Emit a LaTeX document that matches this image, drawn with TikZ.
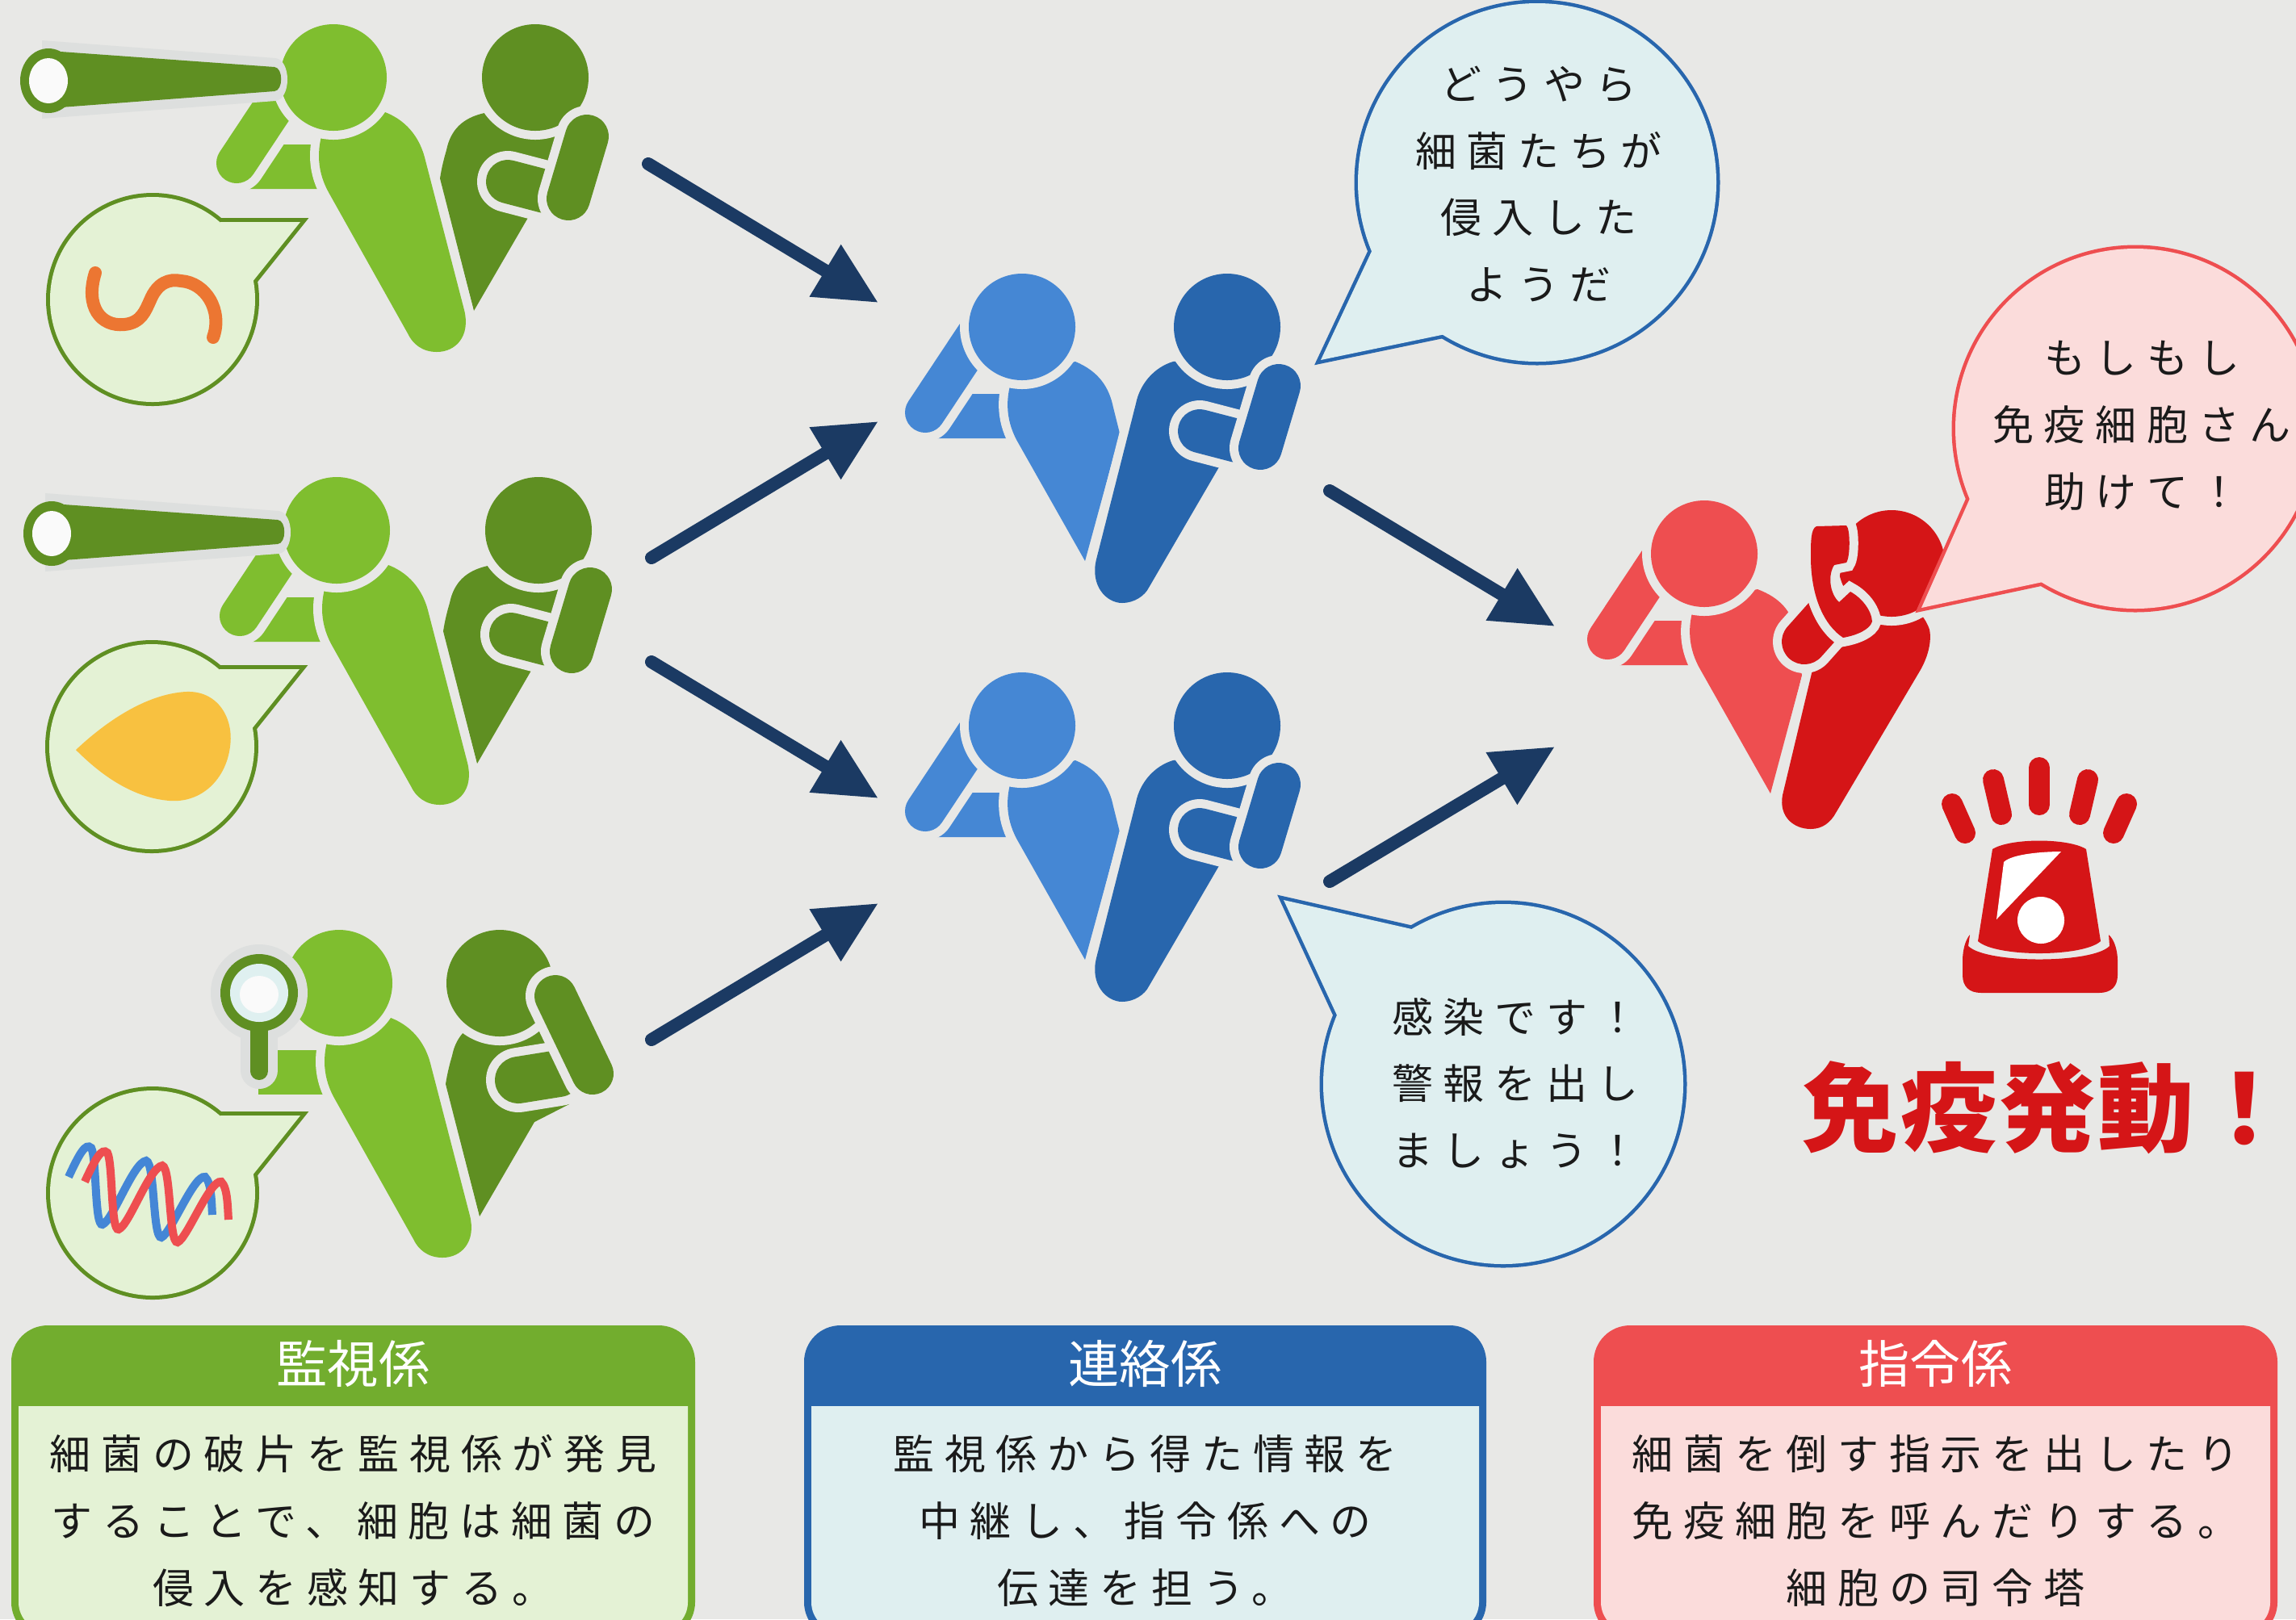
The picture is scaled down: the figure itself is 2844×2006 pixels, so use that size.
\documentclass[tikz,border=0pt]{standalone}
\usepackage{fontspec}
\setmainfont{Noto Sans CJK JP}
\usetikzlibrary{arrows.meta}

\definecolor{bg}{HTML}{E8E8E6}
\definecolor{halo}{HTML}{DDDFDE}
\definecolor{lg}{HTML}{7FBE2F}
\definecolor{dg}{HTML}{5F8F22}
\definecolor{gbox}{HTML}{72AD2E}
\definecolor{gpale}{HTML}{E4F2D5}
\definecolor{lb}{HTML}{4587D4}
\definecolor{db}{HTML}{2866AD}
\definecolor{bpale}{HTML}{DFEFF0}
\definecolor{lr}{HTML}{EE4E50}
\definecolor{dr}{HTML}{D51517}
\definecolor{rpale}{HTML}{FBDCDB}
\definecolor{navy}{HTML}{1B3A63}
\definecolor{worm}{HTML}{EC7632}
\definecolor{leaf}{HTML}{F8C140}
\definecolor{dnab}{HTML}{4486D6}
\definecolor{dnar}{HTML}{EE4E50}
\definecolor{glass}{HTML}{DFF0F0}
\definecolor{shine}{HTML}{FAFAFA}
\definecolor{ink}{HTML}{1A1A1A}

\newcommand{\txtfont}{\fontsize{14.5}{23.6}\selectfont\addfontfeatures{LetterSpace=25}}
\newcommand{\headfont}{\fontsize{18}{20}\selectfont}
\newcommand{\bigfont}{\fontsize{34}{40}\selectfont\bfseries\addfontfeatures{LetterSpace=2}}

\tikzset{
  cutout/.style={preaction={draw=bg,line width=2.2mm}},
  flow/.style={draw=navy,line width=1.6mm,line cap=round,-{Triangle[length=7.7mm,width=7.1mm]}},
  beam/.style={draw=dr,line width=2.6mm,line cap=round},
  bodytxt/.style={align=center,font=\txtfont,text=ink},
  headtxt/.style={font=\headfont,text=white},
  bigtxt/.style={font=\bigfont,text=dr,inner sep=0pt},
}

% rounded limb with a background-coloured rim
\newcommand{\pill}[5]{%
  \draw[bg,line width=#3,line cap=round] #4 -- #5;
  \draw[#1,line width=#2,line cap=round] #4 -- #5;}

% parts of the front figure, relative to its head centre
\newcommand{\lightpiece}[1]{\fill[#1] (-90,83) -- (-12,83) -- (-12,138) -- (-125,138) -- cycle;}
\newcommand{\lightarm}[1]{\pill{#1}{5mm}{7.2mm}{(-120,106)}{(-51,2)}}
\newcommand{\headdisc}[1]{\fill[#1,cutout] (0,0) circle[radius=66];}
\newcommand{\lightround}[1]{\fill[#1,cutout] (64,43) .. controls (95,55) and (108,80) .. (113,99) -- (162,288) .. controls (170,320) and (152,340) .. (128,340) .. controls (110,340) and (98,330) .. (92,317) -- (-5,144) .. controls (-20,118) and (-22,90) .. (-11,60) -- cycle;}
\newcommand{\lightpoint}[1]{\fill[#1,cutout] (66,43) .. controls (95,55) and (108,75) .. (113,100) -- (121,132) -- (78,290) -- (-4,145) .. controls (-20,118) and (-22,90) .. (-11,60) -- cycle;}
% back figure bodies
\newcommand{\darkpoint}[1]{\fill[#1] (210,40) -- (187,44) .. controls (160,50) and (145,65) .. (140,90) .. controls (137,100) and (134,112) .. (132,125) -- (174,289) -- (242,172) -- (285,150) -- (285,40) -- cycle;}
\newcommand{\darkround}[1]{\fill[#1,cutout] (-40,40) -- (-67,43) .. controls (-90,50) and (-108,70) .. (-113,95) -- (-162,288) .. controls (-170,320) and (-150,342) .. (-130,342) .. controls (-115,342) and (-102,333) .. (-97,323) -- (-5,165) -- (35,150) -- (35,40) -- cycle;}
\newcommand{\darkarms}[1]{%
  \pill{#1}{5.4mm}{7.6mm}{(-34,129)}{(12,141)}
  \headdisc{#1}
  \pill{#1}{5.4mm}{7.6mm}{(64,73)}{(41,150)}}

\newcommand{\telescope}{%
  \fill[halo] (-361,-46) -- (-72,-24) .. controls (-52,-22) and (-52,27) .. (-72,29) -- (-361,51) -- cycle;
  \fill[dg] (-338,-32) -- (-73,-13) .. controls (-62,-12) and (-62,16) .. (-73,17) -- (-338,37) -- cycle;
  \fill[dg] (-353,4) ellipse[x radius=35,y radius=40];
  \fill[shine] (-353,4) ellipse[x radius=24,y radius=28];}

\newcommand{\greenpair}[2]{%
  \begin{scope}[shift={(#1,#2)}]
    \darkpoint{dg}
    \begin{scope}[shift={(250,0)}]\darkarms{dg}\end{scope}
    \lightpiece{lg}
    \lightarm{lg}
    \lightround{lg}
    \headdisc{lg}
    \telescope
  \end{scope}}

\newcommand{\bluepair}[2]{%
  \begin{scope}[shift={(#1,#2)}]
    \lightpiece{lb}
    \lightarm{lb}
    \lightpoint{lb}
    \headdisc{lb}
    \begin{scope}[shift={(254,0)}]
      \darkround{db}
      \darkarms{db}
    \end{scope}
  \end{scope}}

\newcommand{\gbubble}[2]{%
  \begin{scope}[shift={(#1,#2)}]
    \draw[dg,line width=1mm] (0,0) circle[radius=127];
    \draw[dg,line width=1mm] (50,-40) -- (84,-96) -- (183,-96) -- (123,-21) -- cycle;
    \fill[gpale] (0,0) circle[radius=127];
    \fill[gpale] (50,-40) -- (84,-96) -- (183,-96) -- (123,-21) -- cycle;
  \end{scope}}

% speech balloon: colour, fill, centre, radius, tail points
\newcommand{\balloon}[7]{%
  \draw[#1,line width=0.9mm] #3 circle[radius=#4];
  \draw[#1,line width=0.9mm] #5 -- #6 -- #7 -- cycle;
  \fill[#2] #3 circle[radius=#4];
  \fill[#2] #5 -- #6 -- #7 -- cycle;}

% role card: header colour, body colour, left, right
\newcommand{\card}[4]{%
  \fill[#1] (#3,1642) [rounded corners=4.5mm] rectangle (#4,2030);
  \fill[#2] (#3+9,1742) -- (#4-9,1742) [rounded corners=3.6mm] -- (#4-9,2021) -- (#3+9,2021) [sharp corners] -- cycle;}

\begin{document}
\begin{tikzpicture}[x=0.1mm,y=-0.1mm]
\useasboundingbox (0,0) rectangle (2844,2006);
\fill[bg] (0,0) rectangle (2844,2006);
\clip (0,0) rectangle (2844,2006);

% ---------- role cards ----------
\card{gbox}{gpale}{14}{861}
\card{db}{bpale}{996}{1841}
\card{lr}{rpale}{1974}{2821}

% ---------- watchers ----------
\greenpair{413}{96}
\greenpair{417}{657}

% third watcher with a magnifier
\begin{scope}[shift={(420,1218)}]
  \darkpoint{dg}
\end{scope}
\pill{dg}{5.8mm}{8mm}{(642,1338)}{(692,1330)}
\begin{scope}[shift={(619,1218)}]\headdisc{dg}\end{scope}
\pill{dg}{5.2mm}{7.4mm}{(688,1234)}{(734,1330)}
\begin{scope}[shift={(420,1218)}]
  \fill[lg] (-100,83) -- (-12,83) -- (-12,138) -- (-100,138) -- cycle;
  \lightround{lg}
  \headdisc{lg}
\end{scope}
\fill[halo] (321,1230) circle[radius=60];
\draw[halo,line width=4.6mm,line cap=round] (321,1280) -- (321,1326);
\draw[dg,line width=2.2mm,line cap=round] (321,1270) -- (321,1327);
\fill[dg] (321,1230) circle[radius=48];
\fill[glass] (321,1230) circle[radius=36];
\fill[shine] (321,1232) ellipse[x radius=24,y radius=23];

% thought balloons of the watchers
\gbubble{189}{371}
\gbubble{188}{925}
\gbubble{189}{1478}
\draw[worm,line width=1.6mm,line cap=round] (118,338) .. controls (105,380) and (125,405) .. (154,402) .. controls (175,400) and (180,385) .. (186,372) .. controls (195,350) and (210,345) .. (224,348) .. controls (255,350) and (276,385) .. (264,418);
\fill[leaf] (94,929) .. controls (130,895) and (180,860) .. (230,857) .. controls (270,855) and (290,890) .. (285,925) .. controls (280,965) and (250,995) .. (210,992) .. controls (160,988) and (120,955) .. (94,929) -- cycle;
\draw[dnab,line width=1mm] (85,1458) .. controls (98,1430) and (106,1415) .. (113,1422) .. controls (120,1435) and (117,1520) .. (127,1517) .. controls (140,1512) and (165,1440) .. (181,1438) .. controls (192,1440) and (189,1535) .. (200,1533) .. controls (212,1528) and (240,1455) .. (254,1458) .. controls (262,1465) and (262,1490) .. (263,1505);
\draw[dnar,line width=1mm,shift={(20,6)}] (85,1458) .. controls (98,1430) and (106,1415) .. (113,1422) .. controls (120,1435) and (117,1520) .. (127,1517) .. controls (140,1512) and (165,1440) .. (181,1438) .. controls (192,1440) and (189,1535) .. (200,1533) .. controls (212,1528) and (240,1455) .. (254,1458) .. controls (262,1465) and (262,1490) .. (263,1505);

% ---------- messengers ----------
\bluepair{1266}{405}
\bluepair{1266}{899}

% ---------- commander ----------
\begin{scope}[shift={(2111,686)}]
  \lightpiece{lr}
  \lightarm{lr}
  \fill[lr,cutout] (66,44) .. controls (95,55) and (108,72) .. (113,95) -- (121,151) -- (82,297) -- (-4,145) .. controls (-20,118) and (-22,90) .. (-11,60) -- cycle;
  \headdisc{lr}
\end{scope}
\fill[dr,cutout] (2300,745) -- (2255,775) -- (2245,830) -- (2208,985) .. controls (2203,1012) and (2222,1027) .. (2243,1027) .. controls (2258,1027) and (2268,1018) .. (2274,1007) -- (2377,833) .. controls (2388,815) and (2393,795) .. (2390,780) .. controls (2385,765) and (2375,755) .. (2365,750) -- cycle;
\pill{dr}{5.6mm}{7.8mm}{(2235,795)}{(2268,758)}
\begin{scope}[shift={(2343,698)}]\headdisc{dr}\end{scope}
\fill[dr,cutout] (2250,652) -- (2287,651) .. controls (2292,655) and (2292,690) .. (2287,697) -- (2272,700) .. controls (2264,712) and (2266,735) .. (2278,746) -- (2292,733) .. controls (2305,740) and (2318,755) .. (2319,770) .. controls (2316,780) and (2300,787) .. (2283,790) .. controls (2260,775) and (2243,740) .. (2243,690) .. controls (2243,670) and (2243,655) .. (2250,652) -- cycle;

% ---------- speech balloons ----------
\balloon{db}{bpale}{(1904,226)}{222}{(1702,305)}{(1636,446)}{(1795,413)}
\fill[bpale] (1702,305) -- (1795,413) -- (1830,300) -- cycle;
\balloon{db}{bpale}{(1862,1343)}{223}{(1658,1262)}{(1590,1115)}{(1753,1152)}
\fill[bpale] (1658,1262) -- (1753,1152) -- (1780,1280) -- cycle;
\balloon{lr}{rpale}{(2645,531)}{223}{(2442,613)}{(2380,753)}{(2535,720)}
\fill[rpale] (2442,613) -- (2535,720) -- (2560,620) -- cycle;

% ---------- flow arrows ----------
\coordinate (w1) at (803,203);  \coordinate (m1a) at (1088,375);
\coordinate (w2a) at (807,691); \coordinate (m1b) at (1088,522);
\coordinate (w2b) at (807,820); \coordinate (m2a) at (1088,989);
\coordinate (w3) at (807,1288); \coordinate (m2b) at (1088,1119);
\coordinate (m1o) at (1647,608); \coordinate (ca) at (1926,776);
\coordinate (m2o) at (1647,1092); \coordinate (cb) at (1926,925);
\draw[flow] (w1) -- (m1a);
\draw[flow] (w2a) -- (m1b);
\draw[flow] (w2b) -- (m2a);
\draw[flow] (w3) -- (m2b);
\draw[flow] (m1o) -- (ca);
\draw[flow] (m2o) -- (cb);

% ---------- alarm lamp ----------
\draw[beam] (2526,951) -- (2526,997);
\draw[beam] (2469,966) -- (2479,1009);
\draw[beam] (2586,966) -- (2576,1009);
\draw[beam] (2418,996) -- (2434,1032);
\draw[beam] (2634,996) -- (2618,1032);
\fill[dr] (2450,1166) -- (2468,1052) .. controls (2490,1038) and (2562,1038) .. (2584,1052) -- (2602,1166) .. controls (2580,1186) and (2472,1186) .. (2450,1166) -- cycle;
\fill[white] (2473,1139) -- (2482,1068) .. controls (2492,1058) and (2530,1055) .. (2553,1055) -- cycle;
\fill[white] (2528,1140) circle[radius=29];
\fill[dr] (2440,1158) -- (2438,1172) .. controls (2460,1194) and (2592,1194) .. (2613,1172) -- (2612,1158) .. controls (2620,1165) and (2623,1180) .. (2623,1190) -- (2623,1208) .. controls (2623,1222) and (2615,1230) .. (2600,1230) -- (2454,1230) .. controls (2439,1230) and (2431,1222) .. (2431,1208) -- (2431,1190) .. controls (2431,1178) and (2434,1165) .. (2440,1158) -- cycle;

% ---------- texts ----------
\node[headtxt] (ghead) at (437.5,1689) {監視係};
\node[bodytxt] (gtext) at (437.5,1884) {細菌の破片を監視係が発見\\することで、細胞は細菌の\\侵入を感知する。};
\node[headtxt] (bhead) at (1418.5,1689) {連絡係};
\node[bodytxt] (btext) at (1418.5,1884) {監視係から得た情報を\\中継し、指令係への\\伝達を担う。};
\node[headtxt] (rhead) at (2397.5,1689) {指令係};
\node[bodytxt] (rtext) at (2397.5,1884) {細菌を倒す指示を出したり\\免疫細胞を呼んだりする。\\細胞の司令塔};
\node[bodytxt] (say1) at (1906,228) {どうやら\\細菌たちが\\侵入した\\ようだ};
\node[bodytxt] (say2) at (1877,1342) {感染です！\\警報を出し\\ましょう！};
\node[bodytxt] (say3) at (2653,527) {もしもし\\免疫細胞さん\\助けて！};
\node[bigtxt,anchor=west] (alert) at (2232,1372) {免疫発動！};
\end{tikzpicture}
\end{document}
